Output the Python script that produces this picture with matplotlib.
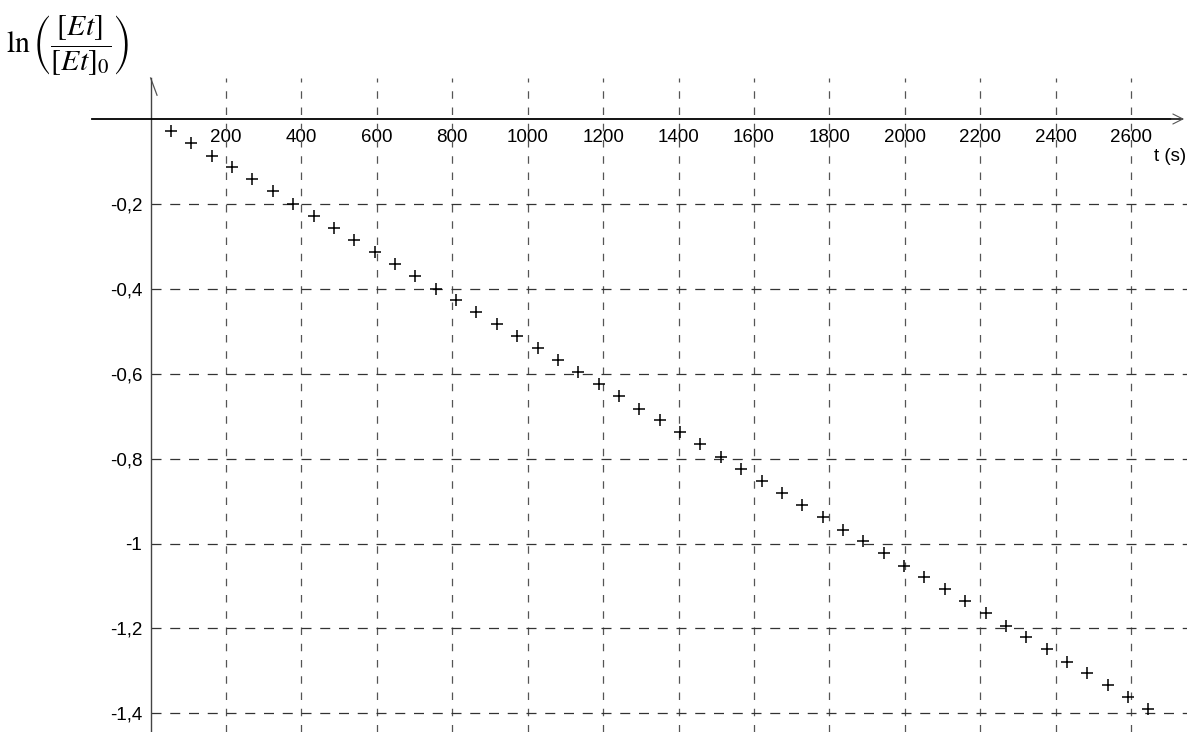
import matplotlib
matplotlib.use("Agg")
import matplotlib.pyplot as plt

plt.rcParams['font.family'] = ['Liberation Sans', 'DejaVu Sans']
plt.rcParams['mathtext.fontset'] = 'stix'

# temps (s) et ln([Et]/[Et]0)
t = [54, 108, 162, 216, 270, 324, 378, 432, 486, 540,
     594, 648, 702, 756, 810, 864, 918, 972, 1026, 1080,
     1134, 1188, 1242, 1296, 1350, 1404, 1458, 1512, 1566, 1620,
     1674, 1728, 1782, 1836, 1890, 1944, 1998, 2052, 2106, 2160,
     2214, 2268, 2322, 2376, 2430, 2484, 2538, 2592, 2646]
ln_ratio = [-0.029, -0.057, -0.086, -0.114, -0.142, -0.170, -0.200, -0.228, -0.257, -0.284,
            -0.313, -0.342, -0.370, -0.400, -0.427, -0.455, -0.484, -0.512, -0.540, -0.568,
            -0.597, -0.625, -0.653, -0.682, -0.710, -0.738, -0.766, -0.796, -0.824, -0.852,
            -0.882, -0.909, -0.938, -0.967, -0.995, -1.023, -1.052, -1.080, -1.107, -1.135,
            -1.164, -1.194, -1.221, -1.249, -1.278, -1.305, -1.333, -1.362, -1.390]

x_ticks = [200, 400, 600, 800, 1000, 1200, 1400, 1600, 1800, 2000, 2200, 2400, 2600]
y_ticks = [-0.2, -0.4, -0.6, -0.8, -1.0, -1.2, -1.4]
y_labels = ['-0,2', '-0,4', '-0,6', '-0,8', '-1', '-1,2', '-1,4']

xmin, xmax = -399.4, 2748.3
ymin, ymax = -1.444, 0.2803
y_top = 0.0966

fig = plt.figure(figsize=(11.87, 7.32), dpi=100)
ax = fig.add_axes([0, 0, 1, 1])
ax.set_xlim(xmin, xmax)
ax.set_ylim(ymin, ymax)

# grille en pointillés
ax.vlines(x_ticks, ymin, y_top, colors='#555555', linestyles=(0, (6, 7)), lw=0.9)
ax.hlines(y_ticks, 0, xmax, colors='#333333', linestyles=(0, (8, 7)), lw=0.9)

# axes passant par l'origine
for s in ['top', 'right']:
    ax.spines[s].set_visible(False)
ax.spines['bottom'].set_position(('data', 0))
ax.spines['bottom'].set_bounds(-155, 2735)
ax.spines['bottom'].set_linewidth(1.3)
ax.spines['left'].set_position(('data', 0))
ax.spines['left'].set_bounds(ymin, y_top)
ax.spines['left'].set_color('#444444')
ax.spines['left'].set_linewidth(1.0)
ax.annotate('', xy=(2748, 0), xytext=(2700, 0),
            arrowprops=dict(arrowstyle='->', lw=0.8, color='#555555',
                            mutation_scale=18))
ax.plot([0, 17], [y_top, 0.056], color='#555555', lw=0.9)

ax.set_xticks(x_ticks)
ax.set_xticklabels([str(v) for v in x_ticks])
ax.set_yticks(y_ticks)
ax.set_yticklabels(y_labels)
ax.tick_params(axis='both', length=0, labelsize=13.5)
ax.tick_params(axis='x', pad=7)
ax.tick_params(axis='y', pad=6)

ax.plot(t, ln_ratio, ls='none', marker='+', color='k', ms=8, mew=1.1)

ax.text(2746, -0.0895, 't (s)', ha='right', va='center', fontsize=13.5)
fig.text(0.057, 0.938, r'$\ln\left(\dfrac{[Et]}{[Et]_0}\right)$',
         ha='center', va='center', fontsize=21.5)

fig.savefig('out.png', dpi=100)
